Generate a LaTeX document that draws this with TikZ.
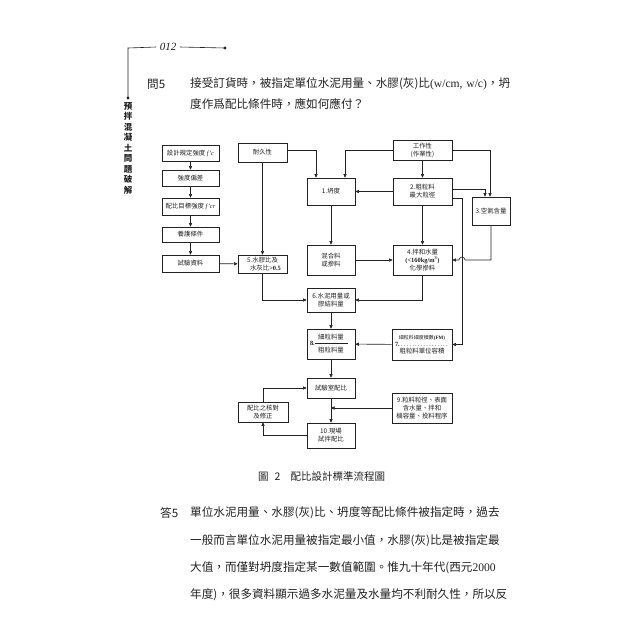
\documentclass[tikz,border=0pt]{standalone}
\usepackage{fontspec}
\setmainfont{Liberation Serif}
\newfontfamily\cjk{Noto Sans CJK TC}
\usetikzlibrary{arrows.meta,calc}
\XeTeXlinebreaklocale "zh"
\XeTeXlinebreakskip=0pt plus 3pt minus 1pt
\newcommand{\fsz}[2]{\fontsize{#1}{#2}\selectfont}
\definecolor{ink}{HTML}{222222}
\tikzset{
  box/.style={draw=ink, line width=0.7pt, inner sep=0.5pt, align=center, text=ink, font=\cjk\fsz{6.4}{8}},
  arr/.style={draw=ink, line width=0.6pt, -{Triangle[length=3.6pt,width=3.2pt]}},
  ln/.style={draw=ink, line width=0.6pt},
  txt/.style={text=ink, inner sep=0pt, anchor=west, font=\cjk\fsz{11.6}{14}},
}
\begin{document}
\begin{tikzpicture}[x=1pt,y=-1pt]
\fill[white] (0,0) rectangle (640,640);
\useasboundingbox (0,0) rectangle (640,640);

% header
\coordinate (hc) at (128,48);
\coordinate (hd) at (225,48);
\coordinate (vd) at (128,98);
\node[text=ink, font=\itshape\fsz{11}{13}] (pg) at (168,47) {012};
\draw[ln] (vd) -- (hc) -- (pg.west);
\draw[ln] (pg.east) -- (hd);
\fill[ink] (hd) circle (1.6pt);
\fill[ink] (vd) circle (1.6pt);
\node[text=ink, anchor=north, align=center, inner sep=0pt, font=\cjk\bfseries\fsz{8.5}{10.5}] (side) at (128,102)
  {預\\拌\\混\\凝\\土\\問\\題\\破\\解};

% question
\node[txt] (q5) at (147,84) {問5};
\node[txt] (ql1) at (190,84) {\makebox[320pt][s]{接受訂貨時，被指定單位水泥用量、水膠(灰)比{\rmfamily (w/cm, w/c)}，坍}};
\node[txt] (ql2) at (190,104) {度作爲配比條件時，應如何應付？};

% flowchart
\node[box, minimum width=57pt, minimum height=16pt] (b1) at (190.5,153) {設計規定強度 {\rmfamily\itshape f'c}};
\node[box, minimum width=57pt, minimum height=16pt] (b2) at (190.5,178) {強度偏差};
\node[box, minimum width=57pt, minimum height=17pt] (b3) at (190.5,206.5) {配比目標強度 {\rmfamily\itshape f'cr}};
\node[box, minimum width=57pt, minimum height=15pt] (b4) at (190.5,234.5) {養護條件};
\node[box, minimum width=57pt, minimum height=17pt] (b5) at (190.5,263.5) {試驗資料};

\node[box, minimum width=49pt, minimum height=19pt] (dur) at (262.5,152.5) {耐久性};
\node[box, minimum width=49pt, minimum height=18pt] (n5) at (262.5,264) {5.水膠比及\\\hspace*{6pt}水灰比{\rmfamily\bfseries >0.5}};

\node[box, minimum width=48pt, minimum height=27pt] (n1) at (331,191.5) {1.坍度};
\node[box, minimum width=48pt, minimum height=30pt] (mix) at (331,260) {混合料\\或摻料};

\node[box, minimum width=59pt, minimum height=20pt] (work) at (422.5,150) {工作性\\(作業性)};
\node[box, minimum width=59pt, minimum height=27pt] (n2) at (422.5,191.5) {2.粗粒料\\最大粒徑};
\node[box, minimum width=38pt, minimum height=28pt] (n3) at (491,211) {3.空氣含量};
\node[box, minimum width=59pt, minimum height=30pt] (n4) at (422.5,260) {4.拌和水量\\{\rmfamily\bfseries (<160kg/m$^{\mathbf 3}$)}\\化學摻料};

\node[box, minimum width=48pt, minimum height=24pt] (n6) at (331,300) {6.水泥用量或\\膠結料量};
\node[box, minimum width=48pt, minimum height=30pt] (n8) at (331,344) {細粒料量\\[-2pt]\makebox[42pt][l]{{\rmfamily\bfseries 8.}\rule[0.6ex]{33pt}{0.4pt}}\\[-1pt]粗粒料量};
\node[box, minimum width=60pt, minimum height=31pt] (n7) at (422,344.5) {{\fsz{5}{6}細粒料細度模數{\rmfamily\bfseries (FM)}}\\[-1pt]\makebox[54pt][l]{{\rmfamily\bfseries 7.}\dotfill}\\[-1pt]粗粒料單位容積};

\node[box, minimum width=48pt, minimum height=20pt] (lab) at (331,388) {試驗室配比};
\node[box, minimum width=60pt, minimum height=30pt] (n9) at (422,408) {9.粒料粒徑、表面\\含水量、拌和\\機容量、投料程序};
\node[box, minimum width=50pt, minimum height=20pt] (fix) at (263,412) {配比之核對\\及修正};
\node[box, minimum width=48pt, minimum height=25pt] (n10) at (331,435.5) {10.現場\\試拌配比};

% connectors
\draw[arr] (b1) -- (b2);
\draw[arr] (b2) -- (b3);
\draw[arr] (b3) -- (b4);
\draw[arr] (b4) -- (b5);
\draw[arr] (b5) -- (n5);
\draw[arr] (dur) -- (n5);
\draw[arr] ([yshift=2pt]dur.east) -| ([xshift=-15pt]n1.north);
\draw[arr] (work.west) -| ([xshift=14pt]n1.north);
\draw[arr] (work) -- (n2);
\draw[arr] (work.east) -| ([xshift=-1pt]n3.north);
\draw[arr] ([yshift=2.5pt]n2.east) -| ([xshift=-6pt]n3.north);
\draw[arr] ([yshift=-6.5pt]n2.east) -| ($(n7.east)+(10,0)$) -- (n7.east);
\draw[arr] (n2) -- (n1);
\draw[arr] (n1) -- (mix);
\draw[arr] (n2) -- (n4);
\draw[arr] (n3.south) |- (465,260) arc[start angle=0, end angle=180, radius=3pt] -- (n4.east);
\draw[arr] (mix) -- (n4);
\draw[arr] (n4.south) |- (n6.east);
\draw[arr] (n5.south) |- (n6.west);
\draw[arr] (n6) -- (n8);
\draw[arr] (n7) -- (n8);
\draw[arr] (n8) -- (lab);
\draw[arr] (lab) -- (n10);
\draw[arr] (n9.west) -- (n9.west -| lab.south);
\draw[arr] (n10.west) -| (fix.south);
\draw[arr] (fix.north) |- (lab.west);

% caption
\node[txt, font=\cjk\fsz{10.5}{12}] (cap) at (258,476) {圖\hspace{6pt}2\hspace{10pt}\makebox[106pt][s]{配比設計標準流程圖}};

% answer
\node[txt] (a5) at (160,513) {答5};
\node[txt] (al1) at (190,513) {\makebox[321pt][s]{單位水泥用量、水膠(灰)比、坍度等配比條件被指定時，過去}};
\node[txt] (al2) at (190,541) {\makebox[321pt][s]{一般而言單位水泥用量被指定最小值，水膠(灰)比是被指定最}};
\node[txt] (al3) at (190,568) {\makebox[321pt][s]{大值，而僅對坍度指定某一數值範圍。惟九十年代(西元{\rmfamily 2000}}};
\node[txt] (al4) at (190,595) {\makebox[321pt][s]{年度)，很多資料顯示過多水泥量及水量均不利耐久性，所以反}};
\end{tikzpicture}
\end{document}
